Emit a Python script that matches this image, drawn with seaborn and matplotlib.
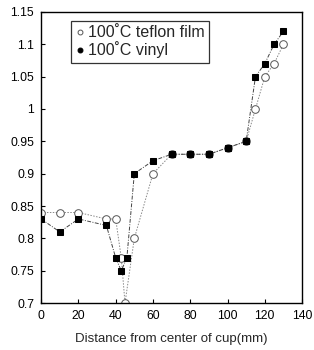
import matplotlib
matplotlib.use("Agg")
import matplotlib.pyplot as plt
import seaborn as sns
import pandas as pd

# readings taken off the printed chart
teflon_x = [0, 10, 20, 35, 40, 43, 45, 50, 60, 70, 80, 90, 100, 110, 115, 120, 125, 130]
teflon_y = [0.84, 0.84, 0.84, 0.83, 0.83, 0.77, 0.70, 0.80, 0.90, 0.93, 0.93, 0.93, 0.94, 0.95, 1.00, 1.05, 1.07, 1.10]
vinyl_x = [0, 10, 20, 35, 40, 43, 46, 50, 60, 70, 80, 90, 100, 110, 115, 120, 125, 130]
vinyl_y = [0.83, 0.81, 0.83, 0.82, 0.77, 0.75, 0.77, 0.90, 0.92, 0.93, 0.93, 0.93, 0.94, 0.95, 1.05, 1.07, 1.10, 1.12]
labels = ["100\u02daC teflon film", "100\u02daC vinyl"]
x_ticks = [0, 20, 40, 60, 80, 100, 120, 140]
y_ticks = [0.7, 0.75, 0.8, 0.85, 0.9, 0.95, 1.0, 1.05, 1.1, 1.15]

sns.set_style("ticks")
plt.rcParams["font.family"] = ["Liberation Sans", "DejaVu Sans"]

teflon = pd.DataFrame({"x": teflon_x, "y": teflon_y})
vinyl = pd.DataFrame({"x": vinyl_x, "y": vinyl_y})

fig = plt.figure(figsize=(3.14, 3.5), dpi=100)
ax = fig.add_axes([0.131, 0.134, 0.831, 0.832])

sns.lineplot(data=teflon, x="x", y="y", ax=ax, color="#888888", lw=0.7,
             linestyle=(0, (1.5, 1.5)), marker="o", markersize=5.5,
             markerfacecolor="white", markeredgecolor="#555555",
             markeredgewidth=0.7, label=labels[0])
sns.lineplot(data=vinyl, x="x", y="y", ax=ax, color="#444444", lw=0.7,
             linestyle=(0, (4, 1.5, 1, 1.5)), marker="s", markersize=4.5,
             markerfacecolor="black", markeredgecolor="black", label=labels[1])

ax.set_xlim(0, 140)
ax.set_ylim(0.7, 1.15)
ax.set_xticks(x_ticks)
ax.set_yticks(y_ticks)
ax.set_yticklabels([f"{v:g}" for v in y_ticks])
ax.tick_params(direction="in", length=3, width=0.8, labelsize=8.8,
               colors="black", pad=5)
for s in ax.spines.values():
    s.set_visible(True)
    s.set_linewidth(1.0)
    s.set_color("black")
ax.set_xlabel("Distance from center of cup(mm)", fontsize=9.5, labelpad=8)
ax.set_ylabel("")

leg = ax.legend(loc="upper left", bbox_to_anchor=(0.115, 0.97), fontsize=11.5,
                frameon=True, fancybox=False, edgecolor="black",
                handlelength=0.5, handletextpad=0.25, borderpad=0.3,
                labelspacing=0.05, borderaxespad=0)
leg.get_frame().set_linewidth(0.9)
for h in leg.legend_handles:
    h.set_linestyle("none")
    h.set_markersize(3.5)
# the printed legend shows a round dot for vinyl
leg.legend_handles[1].set_marker("o")

fig.savefig("out.png", dpi=100)
